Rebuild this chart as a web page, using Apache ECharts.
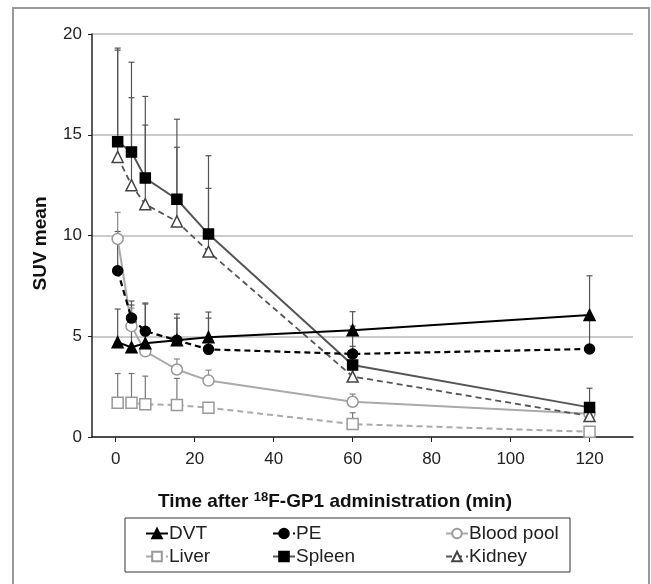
<!DOCTYPE html>
<html>
<head>
<meta charset="utf-8">
<script src="https://cdn.jsdelivr.net/npm/echarts@6/dist/echarts.min.js"></script>
<style>html,body{margin:0;padding:0;background:#fff}#c{width:651px;height:584px}</style>
</head>
<body>
<div id="c"></div>
<script>
var times = [0.5, 4, 7.5, 15.5, 23.5, 60, 120];
var xTicks = [0, 20, 40, 60, 80, 100, 120];
var dvt = [4.7, 4.45, 4.65, 4.8, 4.95, 5.3, 6.05];
var dvtTop = [6.35, 6.55, 6.65, 6.1, 6.2, 6.22, 8.0];
var pe = [8.25, 5.9, 5.25, 4.8, 4.35, 4.12, 4.37];
var peTop = [10.2, 6.75, 6.6, 5.9, 5.9, 5.5, 6.0];
var blood = [9.83, 5.5, 4.25, 3.35, 2.8, 1.75, 1.15];
var bloodTop = [11.15, 6.4, 4.25, 3.87, 3.32, 2.13, 1.15];
var liver = [1.7, 1.7, 1.62, 1.59, 1.45, 0.64, 0.26];
var liverTop = [3.15, 3.15, 3.02, 2.91, 1.45, 1.2, 0.26];
var spleen = [14.65, 14.15, 12.85, 11.8, 10.07, 3.57, 1.47];
var spleenTop = [19.3, 18.6, 16.9, 15.77, 13.96, 4.5, 2.42];
var kidney = [13.9, 12.5, 11.55, 10.7, 9.2, 3.0, 1.04];
var kidneyTop = [19.2, 16.84, 15.48, 14.38, 12.34, 3.8, 1.04];

var FONT = 'Liberation Sans, Arial, sans-serif';

function pts(vals){ return times.map(function(t,i){ return [t, vals[i]]; }); }
function errPts(vals, tops){ return times.map(function(t,i){ return [t, vals[i], tops[i]]; }); }

function errSeries(vals, tops, color){
  return {
    type: 'custom', z: 1, silent: true, legendHoverLink:false,
    data: errPts(vals, tops),
    renderItem: function(params, api){
      var p0 = api.coord([api.value(0), api.value(1)]);
      var p1 = api.coord([api.value(0), api.value(2)]);
      var st = {stroke: color, lineWidth: 1.2};
      return {type:'group', children:[
        {type:'line', shape:{x1:p0[0], y1:p0[1], x2:p1[0], y2:p1[1]}, style:st},
        {type:'line', shape:{x1:p1[0]-3, y1:p1[1], x2:p1[0]+3, y2:p1[1]}, style:st}
      ]};
    }
  };
}

function lineSeries(name, vals, lineColor, lineType, width, symbol, size, fill, border){
  return {
    name: name, type: 'line', z: 3, data: pts(vals),
    symbol: symbol, symbolSize: size,
    lineStyle: {color: lineColor, type: lineType, width: width},
    itemStyle: {color: fill, borderColor: border, borderWidth: 1.5, opacity: 1},
    emphasis: {disabled: true}, animation: false
  };
}

var chart = echarts.init(document.getElementById('c'), null, {renderer: 'canvas'});
var legendBase = {
  orient: 'vertical', itemWidth: 22, itemHeight: 12, itemGap: 4, top: 519,
  textStyle: {fontFamily: FONT, fontSize: 19, color: '#222', padding: [0,0,0,-4]},
  selectedMode: false
};
chart.setOption({
  animation: false,
  grid: {left: 92, right: 18, top: 34, bottom: 147},
  title: {
    text: 'Time after {sup|18}F-GP1 administration (min)',
    left: 153, top: 486,
    textStyle: {fontFamily: FONT, fontSize: 19, fontWeight: 'bold', color: '#111',
      rich: {sup: {fontFamily: FONT, fontSize: 13, fontWeight: 'bold', color: '#111', verticalAlign: 'top', padding: [0,0,8,0]}}}
  },
  legend: [
    Object.assign({}, legendBase, {left: 140, data: ['DVT', 'Liver']}),
    Object.assign({}, legendBase, {left: 267, data: ['PE', 'Spleen']}),
    Object.assign({}, legendBase, {left: 440, data: ['Blood pool', 'Kidney']})
  ],
  xAxis: {
    type: 'value', min: -6, max: 131,
    splitLine: {show: false},
    axisLine: {onZero: false, lineStyle: {color: '#222', width: 1.5}},
    axisTick: {show: true, customValues: xTicks, length: 5, lineStyle: {color: '#222'}},
    axisLabel: {customValues: xTicks, fontFamily: FONT, fontSize: 17, color: '#222', margin: 14}
  },
  yAxis: {
    type: 'value', min: 0, max: 20, interval: 5,
    name: 'SUV mean', nameLocation: 'middle', nameGap: 42,
    nameTextStyle: {fontFamily: FONT, fontSize: 19, fontWeight: 'bold', color: '#111', padding: [0, 16, 0, 0]},
    splitLine: {lineStyle: {color: '#bbb', width: 1.5}},
    axisLine: {show: true, onZero: false, lineStyle: {color: '#222', width: 1.5}},
    axisTick: {show: true, length: 4, lineStyle: {color: '#222'}},
    axisLabel: {fontFamily: FONT, fontSize: 17, color: '#222', margin: 10}
  },
  graphic: [
    {type: 'rect', shape: {x: 13, y: 8, width: 636, height: 620}, style: {fill: 'none', stroke: '#999', lineWidth: 2}, silent: true},
    {type: 'rect', shape: {x: 125, y: 518, width: 445, height: 54}, style: {fill: 'none', stroke: '#333', lineWidth: 1}, silent: true}
  ],
  series: [
    errSeries(dvt, dvtTop, '#555'),
    errSeries(pe, peTop, '#555'),
    errSeries(blood, bloodTop, '#888'),
    errSeries(liver, liverTop, '#777'),
    errSeries(spleen, spleenTop, '#555'),
    errSeries(kidney, kidneyTop, '#555'),
    lineSeries('Liver', liver, '#aaa', [6,4], 2, 'rect', 11, '#fff', '#999'),
    lineSeries('Blood pool', blood, '#aaa', 'solid', 2, 'circle', 11, '#fff', '#999'),
    lineSeries('Kidney', kidney, '#555', [6,4], 1.8, 'triangle', 11, '#fff', '#444'),
    lineSeries('Spleen', spleen, '#555', 'solid', 2, 'rect', 10, '#000', '#000'),
    lineSeries('PE', pe, '#000', [6,4], 2.2, 'circle', 10, '#000', '#000'),
    lineSeries('DVT', dvt, '#000', 'solid', 2, 'triangle', 11, '#000', '#000')
  ]
});
</script>
</body>
</html>
